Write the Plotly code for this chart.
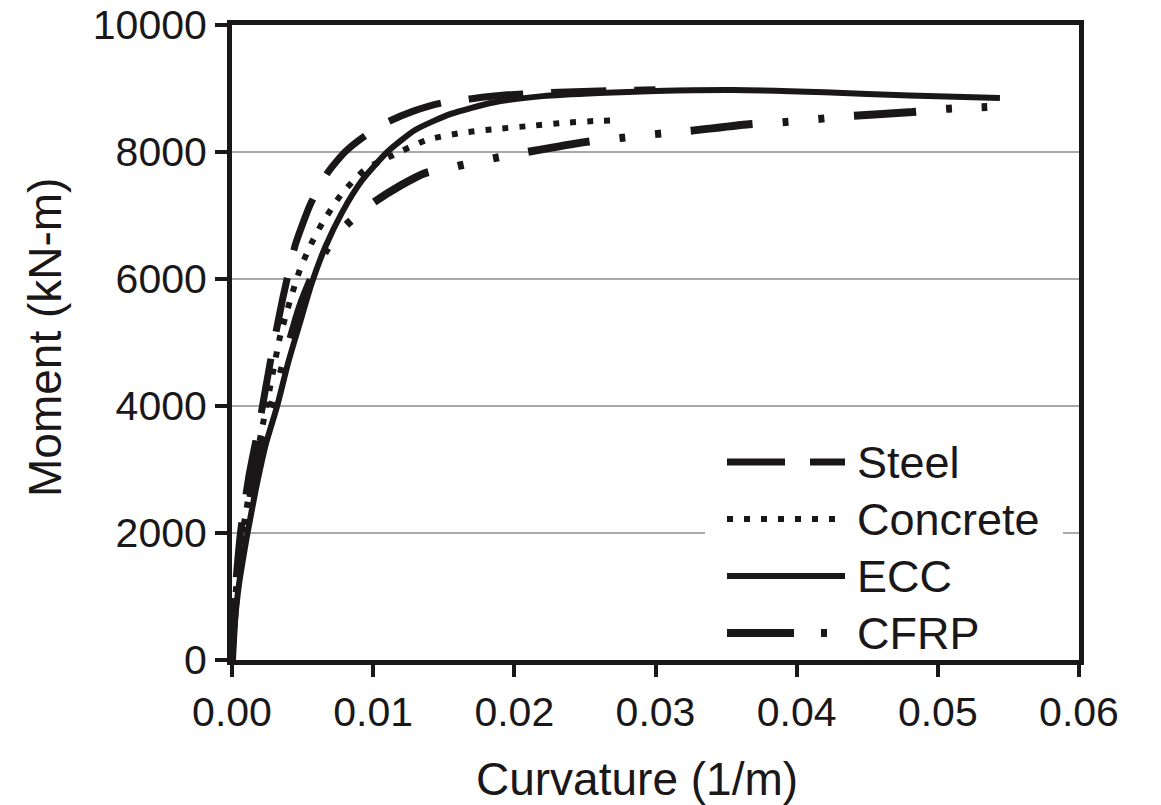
import plotly.graph_objects as go

# ---- data ----
steel_x = [0, 0.0002, 0.0006, 0.0012, 0.0020, 0.0028, 0.0036, 0.0045, 0.0056, 0.0068,
           0.0080, 0.0094, 0.0110, 0.0128, 0.0148, 0.0170, 0.0195, 0.0225, 0.0260, 0.0300]
steel_m = [0, 1000, 2000, 2900, 3800, 4800, 5700, 6550, 7200, 7680,
           8000, 8250, 8470, 8640, 8770, 8840, 8900, 8935, 8960, 8980]

concrete_x = [0, 0.0002, 0.0006, 0.0012, 0.0020, 0.0027, 0.0034, 0.0041, 0.0048, 0.0056,
              0.0064, 0.0077, 0.0094, 0.0114, 0.0138, 0.0162, 0.0186, 0.0211, 0.0236, 0.0259, 0.0273]
concrete_m = [0, 900, 1800, 2600, 3500, 4300, 5090, 5650, 6140, 6550,
              6880, 7320, 7720, 7950, 8190, 8300, 8360, 8410, 8460, 8490, 8500]

ecc_x = [0, 0.0002, 0.0005, 0.0009, 0.0011, 0.0017, 0.0024, 0.0032, 0.0040, 0.0048, 0.0056,
         0.0066, 0.0078, 0.0092, 0.0110, 0.0130, 0.0155, 0.0185, 0.0220, 0.0260, 0.0300,
         0.0355, 0.0420, 0.0480, 0.0544]
ecc_m = [0, 600, 1200, 1750, 2000, 2700, 3400, 4000, 4700, 5300, 5900,
         6500, 7050, 7550, 8000, 8350, 8600, 8780, 8880, 8930, 8960,
         8975, 8940, 8890, 8850]

cfrp_x = [0, 0.0002, 0.0005, 0.0010, 0.0017, 0.0024, 0.0032, 0.0040, 0.0048, 0.0057,
          0.0068, 0.0081, 0.0100, 0.0120, 0.0137, 0.0160, 0.0185, 0.0209, 0.0251, 0.0275,
          0.0299, 0.0323, 0.0368, 0.0390, 0.0415, 0.0439, 0.0482, 0.0506, 0.0535]
cfrp_m = [0, 800, 1500, 2200, 3000, 3700, 4300, 4950, 5550, 6050,
          6500, 6850, 7200, 7480, 7670, 7780, 7900, 8000, 8160, 8220,
          8280, 8330, 8440, 8470, 8520, 8570, 8630, 8680, 8710]

series_names = ["Steel", "Concrete", "ECC", "CFRP"]
x_ticks = [0, 0.01, 0.02, 0.03, 0.04, 0.05, 0.06]
x_tick_labels = ["0.00", "0.01", "0.02", "0.03", "0.04", "0.05", "0.06"]
y_ticks = [0, 2000, 4000, 6000, 8000, 10000]
y_tick_labels = ["0", "2000", "4000", "6000", "8000", "10000"]
x_title = "Curvature (1/m)"
y_title = "Moment (kN-m)"

# ---- styles ----
INK = "#1a1718"
FONT = "Liberation Sans, Arial, sans-serif"
plot_dash = {
    "Steel": "55px,28px",
    "Concrete": "6px,11px",
    "ECC": "solid",
    "CFRP": "62px,30px,6px,30px,6px,30px",
}
legend_dash = {
    "Steel": "58px,25px",
    "Concrete": "6px,11px",
    "ECC": "solid",
    "CFRP": "67px,27px,6px,27px",
}
widths = {"Steel": 7, "Concrete": 6, "ECC": 6, "CFRP": 8}

data = {
    "Steel": (steel_x, steel_m),
    "Concrete": (concrete_x, concrete_m),
    "ECC": (ecc_x, ecc_m),
    "CFRP": (cfrp_x, cfrp_m),
}

fig = go.Figure()
for name in series_names:
    xs, ys = data[name]
    fig.add_trace(go.Scatter(
        x=xs, y=ys, mode="lines", name=name, showlegend=False,
        line=dict(color=INK, width=widths[name], dash=plot_dash[name], shape="spline", smoothing=0.6),
    ))

W, H = 1161, 805
L, R, T, B = 232, 82, 25, 145
pw, ph = W - L - R, H - T - B


def px2paper(px, py):
    return (px - L) / pw, (H - B - py) / ph


shapes = []
annotations = []
# legend background box (hides the 2000 grid line)
x0, y0 = px2paper(705, 655)
x1, y1 = px2paper(1063, 440)
shapes.append(dict(type="rect", xref="paper", yref="paper", x0=x0, y0=y0, x1=x1, y1=y1,
                   fillcolor="white", line=dict(width=0), layer="above"))
legend_rows = [462, 519, 576, 633]
legend_ends = {"Steel": 845, "Concrete": 838, "ECC": 845, "CFRP": 830}
for name, row in zip(series_names, legend_rows):
    lx0, ly = px2paper(727, row)
    lx1, _ = px2paper(legend_ends[name], row)
    shapes.append(dict(type="line", xref="paper", yref="paper", x0=lx0, y0=ly, x1=lx1, y1=ly,
                       line=dict(color=INK, width=widths[name], dash=legend_dash[name]),
                       layer="above"))
    tx, ty = px2paper(855, row)
    annotations.append(dict(xref="paper", yref="paper", x=tx, y=ty, xanchor="left",
                            yanchor="middle", text=name, showarrow=False,
                            font=dict(family=FONT, size=45, color=INK)))

# axis titles
ax, ay = px2paper(637, 779)
annotations.append(dict(xref="paper", yref="paper", x=ax, y=ay, xanchor="center", yanchor="middle",
                        text=x_title, showarrow=False, font=dict(family=FONT, size=46, color=INK)))
bx, by = px2paper(45, 338)
annotations.append(dict(xref="paper", yref="paper", x=bx, y=by, xanchor="center", yanchor="middle",
                        text=y_title, textangle=-90, showarrow=False,
                        font=dict(family=FONT, size=46, color=INK)))

fig.update_layout(
    width=W, height=H,
    margin=dict(l=L, r=R, t=T, b=B, autoexpand=False),
    paper_bgcolor="white", plot_bgcolor="white",
    font=dict(family=FONT, color=INK, size=40),
    shapes=shapes, annotations=annotations,
    showlegend=False,
)
fig.update_xaxes(
    range=[0, 0.06], tickvals=x_ticks, ticktext=x_tick_labels, automargin=False,
    showgrid=False, zeroline=False,
    showline=True, linecolor=INK, linewidth=5, mirror=True,
    ticks="outside", ticklen=12, tickwidth=4, tickcolor=INK,
    tickfont=dict(size=41, family=FONT, color=INK),
)
fig.update_yaxes(
    range=[0, 10000], tickvals=y_ticks, ticktext=y_tick_labels, automargin=False,
    showgrid=True, gridcolor="#a7a9ac", gridwidth=2, zeroline=False,
    showline=True, linecolor=INK, linewidth=5, mirror=True,
    ticks="outside", ticklen=12, tickwidth=4, tickcolor=INK,
    tickfont=dict(size=41, family=FONT, color=INK),
)

fig.write_html("out.html")
